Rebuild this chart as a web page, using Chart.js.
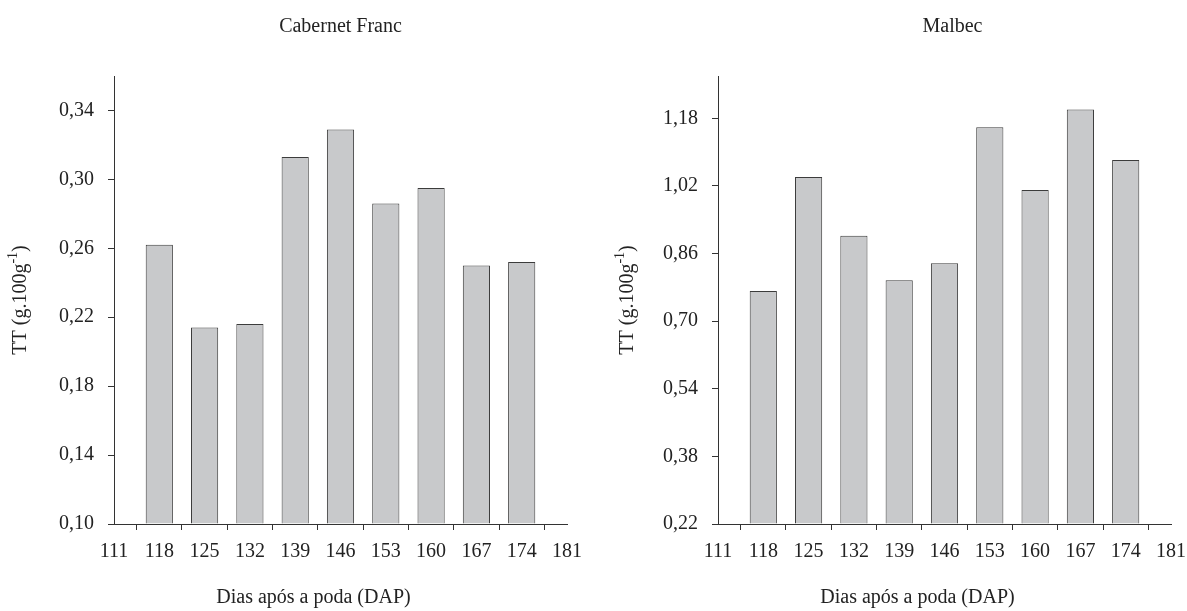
<!DOCTYPE html>
<html>
<head>
<meta charset="utf-8">
<script src="https://cdn.jsdelivr.net/npm/chart.js@4.4.0/dist/chart.umd.min.js"></script>
<style>
  html, body { margin: 0; padding: 0; background: #fff; }
  #wrap { position: relative; width: 1187px; height: 611px; }
  .box { position: absolute; top: 0; height: 611px; }
  #left { left: 0; width: 593px; }
  #right { left: 593px; width: 594px; }
</style>
</head>
<body>
<div id="wrap">
  <div class="box" id="left"><canvas id="cf"></canvas></div>
  <div class="box" id="right"><canvas id="mb"></canvas></div>
</div>
<script>
// days after pruning (DAP) and total titratable acidity per cultivar
const days = [118, 125, 132, 139, 146, 153, 160, 167, 174];
const dayTicks = [111, 118, 125, 132, 139, 146, 153, 160, 167, 174, 181];
const cabernetFranc = [0.262, 0.214, 0.216, 0.313, 0.329, 0.286, 0.295, 0.250, 0.252];
const malbec = [0.771, 1.041, 0.902, 0.797, 0.837, 1.159, 1.010, 1.201, 1.081];
const cfTicks = [0.10, 0.14, 0.18, 0.22, 0.26, 0.30, 0.34];
const mbTicks = [0.22, 0.38, 0.54, 0.70, 0.86, 1.02, 1.18];

const FONT = '"Liberation Serif", "Times New Roman", serif';
const INK = '#222';

// titles and axis labels drawn on the canvas (y label needs a superscript)
const axisText = {
    id: 'axisText',
    afterDraw(chart, args, opts) {
        const { ctx, chartArea: a } = chart;
        const mid = (a.left + a.right) / 2;
        ctx.save();
        ctx.fillStyle = INK;
        ctx.textBaseline = 'middle';
        ctx.textAlign = 'center';
        ctx.font = '20px ' + FONT;
        ctx.fillText(opts.title, mid + opts.titleShift, 27);
        ctx.fillText('Dias após a poda (DAP)', mid - 27, 598);

        // rotated y label: TT (g.100g^-1)
        const big = '20px ' + FONT, small = '14px ' + FONT;
        ctx.font = big;
        const w1 = ctx.measureText('TT (g.100g').width;
        const w3 = ctx.measureText(')').width;
        ctx.font = small;
        const w2 = ctx.measureText('-1').width;
        const total = w1 + w2 + w3;
        ctx.translate(opts.yLabelX, (a.top + a.bottom) / 2);
        ctx.rotate(-Math.PI / 2);
        ctx.textAlign = 'left';
        let x = -total / 2;
        ctx.font = big;
        ctx.fillText('TT (g.100g', x, 0);
        x += w1;
        ctx.font = small;
        ctx.fillText('-1', x, -8);
        x += w2;
        ctx.font = big;
        ctx.fillText(')', x, 0);
        ctx.restore();
    }
};

function makeChart(id, title, values, yTicks, yMax, yWidth, padRight, titleShift, yLabelX) {
    const yMin = yTicks[0];
    return new Chart(document.getElementById(id), {
        type: 'bar',
        data: {
            datasets: [{
                data: days.map((d, i) => ({ x: d, y: values[i] })),
                backgroundColor: '#c8c9cb',
                borderColor: '#3c3c3c',
                borderWidth: 1,
                barPercentage: 0.6,
                categoryPercentage: 1,
                base: yMin
            }]
        },
        options: {
            responsive: true,
            maintainAspectRatio: false,
            animation: false,
            layout: { padding: { top: 76, right: padRight, bottom: 0, left: 0 } },
            plugins: {
                legend: { display: false },
                tooltip: { enabled: false },
                axisText: { title: title, titleShift: titleShift, yLabelX: yLabelX }
            },
            scales: {
                x: {
                    type: 'linear',
                    min: 111,
                    max: 181,
                    offset: false,
                    afterBuildTicks: s => { s.ticks = dayTicks.map(v => ({ value: v })); },
                    afterFit: s => { s.height = 87; s.paddingLeft = 0; s.paddingRight = 0; },
                    ticks: {
                        color: INK,
                        font: { family: FONT, size: 20 },
                        padding: 10,
                        maxRotation: 0,
                        autoSkip: false
                    },
                    grid: { drawOnChartArea: false, drawTicks: true, tickLength: 6, color: '#333' },
                    border: { display: true, color: '#333', width: 1 }
                },
                y: {
                    min: yMin,
                    max: yMax,
                    afterBuildTicks: s => { s.ticks = yTicks.map(v => ({ value: v })); },
                    afterFit: s => { s.width = yWidth; },
                    ticks: {
                        color: INK,
                        font: { family: FONT, size: 20 },
                        padding: 14,
                        callback: v => v.toFixed(2).replace('.', ',')
                    },
                    grid: { drawOnChartArea: false, drawTicks: true, tickLength: 6, color: '#333' },
                    border: { display: true, color: '#333', width: 1 }
                }
            }
        },
        plugins: [axisText]
    });
}

makeChart('cf', 'Cabernet Franc', cabernetFranc, cfTicks, 0.36, 114, 26, 0, 21);
makeChart('mb', 'Malbec', malbec, mbTicks, 1.28, 125, 16, 8, 35);
</script>
</body>
</html>
